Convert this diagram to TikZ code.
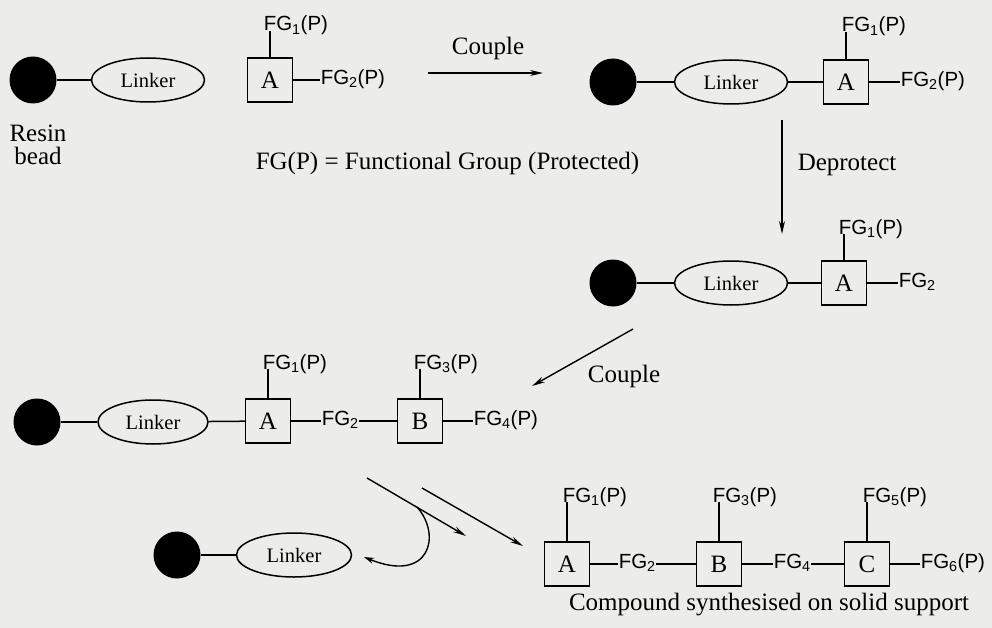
\documentclass[tikz,border=0pt]{standalone}
\usepackage{fontspec}
\setmainfont{Liberation Serif}
\setsansfont{Liberation Sans}
\usetikzlibrary{shapes.geometric,arrows.meta}
\definecolor{paper}{RGB}{236,236,235}
\begin{document}
\begin{tikzpicture}[x=1pt,y=-1pt,line width=1.5pt,
  bead/.style={circle,fill=black,draw=none,minimum size=47pt,inner sep=0pt},
  linker/.style={ellipse,draw,minimum width=113pt,minimum height=44pt,inner sep=0pt,font=\fontsize{20.5}{22}\selectfont},
  unit/.style={draw,minimum width=45pt,minimum height=44pt,inner sep=0pt,font=\fontsize{25}{28}\selectfont},
  fg/.style={inner sep=0pt,font=\sffamily\fontsize{20.5}{23}\selectfont},
  lbl/.style={inner sep=0pt,font=\fontsize{25}{27}\selectfont},
  arr/.style={-{Stealth[length=13pt,width=6pt]},line width=1.4pt}]
\fill[paper] (0,0) rectangle (992,628);
\useasboundingbox (0,0) rectangle (992,628);

% ---- top left: reagents
\node[bead] (b1) at (33,80) {};
\node[linker] (l1) at (148,80) {Linker};
\node[unit] (a1) at (270,80) {A};
\node[fg,anchor=base west] (f11) at (263,31) {FG\textsubscript{1}(P)};
\node[fg,anchor=mid west] (f12) at (320,82) {FG\textsubscript{2}(P)};
\draw (b1) -- (l1);
\draw (a1.north) -- (a1.north |- f11.base);
\draw (a1.east) -- (a1.east -| f12.west);
\node[lbl,align=center] (resin) at (38,145) {Resin\\[-4pt]bead};
\node[lbl,anchor=base west] (legend) at (255,170) {FG(P) = Functional Group (Protected)};

% ---- couple arrow 1
\coordinate (c1s) at (428,73);
\coordinate (c1e) at (543,73);
\draw[arr] (c1s) -- (c1e);
\node[lbl,anchor=base] (cpl1) at (488,55) {Couple};

% ---- top right
\node[bead] (b2) at (613,82) {};
\node[linker] (l2) at (731,82) {Linker};
\node[unit] (a2) at (846,82) {A};
\node[fg,anchor=base west] (f21) at (841,32) {FG\textsubscript{1}(P)};
\node[fg,anchor=mid west] (f22) at (900,84) {FG\textsubscript{2}(P)};
\draw (b2) -- (l2);
\draw (l2) -- (a2);
\draw (a2.north) -- (a2.north |- f21.base);
\draw (a2.east) -- (a2.east -| f22.west);

% ---- deprotect arrow
\coordinate (d1s) at (782,120);
\coordinate (d1e) at (782,234);
\draw[arr] (d1s) -- (d1e);
\node[lbl,anchor=west] (dep) at (797,165) {Deprotect};

% ---- row 3
\node[bead] (b3) at (613,283) {};
\node[linker] (l3) at (731,283) {Linker};
\node[unit] (a3) at (844,283) {A};
\node[fg,anchor=base west] (f31) at (838,234) {FG\textsubscript{1}(P)};
\node[fg,anchor=mid west] (f32) at (898,285) {FG\textsubscript{2}};
\draw (b3) -- (l3);
\draw (l3) -- (a3);
\draw (a3.north) -- (a3.north |- f31.base);
\draw (a3.east) -- (a3.east -| f32.west);

% ---- couple arrow 2
\coordinate (c2s) at (633,329);
\coordinate (c2e) at (532,386);
\draw[arr] (c2s) -- (c2e);
\node[lbl] (cpl2) at (624,376) {Couple};

% ---- row 4
\node[bead] (b4) at (37,422) {};
\node[linker,minimum width=110pt] (l4) at (153,422) {Linker};
\node[unit] (a4) at (268,421) {A};
\node[unit] (bb4) at (420,421) {B};
\node[fg,anchor=base west] (f41) at (262,369) {FG\textsubscript{1}(P)};
\node[fg,anchor=mid west] (f42) at (321,423) {FG\textsubscript{2}};
\node[fg,anchor=base west] (f43) at (413,369) {FG\textsubscript{3}(P)};
\node[fg,anchor=mid west] (f44) at (473,423) {FG\textsubscript{4}(P)};
\draw (b4) -- (l4);
\draw (l4) -- (a4);
\draw (a4.north) -- (a4.north |- f41.base);
\draw (a4.east) -- (a4.east -| f42.west);
\draw (bb4.west -| f42.east) -- (bb4.west);
\draw (bb4.north) -- (bb4.north |- f43.base);
\draw (bb4.east) -- (bb4.east -| f44.west);

% ---- cleavage arrows
\coordinate (e1s) at (367,478);
\coordinate (e1e) at (466,536);
\coordinate (e2s) at (422,488);
\coordinate (e2e) at (523,546);
\coordinate (hk) at (417,507);
\coordinate (hke) at (364,557);
\draw[arr] (e1s) -- (e1e);
\draw[arr] (e2s) -- (e2e);
\draw[-{Stealth[length=10pt,width=6pt]},line width=1.4pt] (hk) .. controls (442,535) and (430,584) .. (hke);

% ---- released resin
\node[bead] (b5) at (177,555) {};
\node[linker,minimum width=115pt] (l5) at (294,555) {Linker};
\draw (b5) -- (l5);

% ---- final compound
\node[unit] (a6) at (567,564) {A};
\node[unit] (bb6) at (719,564) {B};
\node[unit] (cc6) at (867,564) {C};
\node[fg,anchor=base west] (f61) at (562,502) {FG\textsubscript{1}(P)};
\node[fg,anchor=mid west] (f62) at (618,566) {FG\textsubscript{2}};
\node[fg,anchor=base west] (f63) at (712,502) {FG\textsubscript{3}(P)};
\node[fg,anchor=mid west] (f64) at (773,566) {FG\textsubscript{4}};
\node[fg,anchor=base west] (f65) at (862,502) {FG\textsubscript{5}(P)};
\node[fg,anchor=mid west] (f66) at (920,566) {FG\textsubscript{6}(P)};
\draw (a6.north) -- (a6.north |- f61.base);
\draw (a6.east) -- (a6.east -| f62.west);
\draw (bb6.west -| f62.east) -- (bb6.west);
\draw (bb6.north) -- (bb6.north |- f63.base);
\draw (bb6.east) -- (bb6.east -| f64.west);
\draw (cc6.west -| f64.east) -- (cc6.west);
\draw (cc6.north) -- (cc6.north |- f65.base);
\draw (cc6.east) -- (cc6.east -| f66.west);
\node[lbl,anchor=base] (cmp) at (769,610) {Compound synthesised on solid support};
\end{tikzpicture}
\end{document}
